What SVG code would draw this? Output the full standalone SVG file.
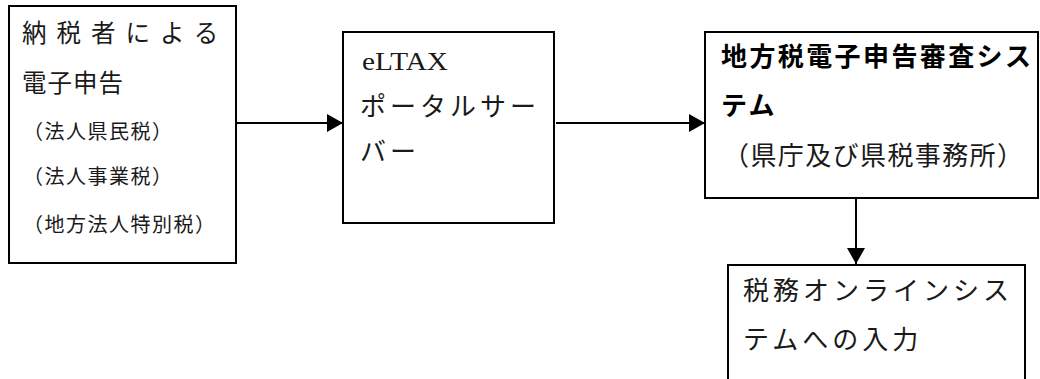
<svg xmlns="http://www.w3.org/2000/svg" width="1040" height="379" viewBox="0 0 1040 379">
  <style>
    .box { fill: #ffffff; stroke: #000000; stroke-width: 2; }
    .jp { font-family: "Noto Sans CJK JP", "Liberation Serif", sans-serif; fill: #1a1a1a; font-size: 24.5px; }
    .sm { font-size: 20px; letter-spacing: 1.5px; }
    .lg { font-size: 26px; }
    .bold { font-weight: bold; fill: #000000; }
    .lat { font-family: "Liberation Serif", serif; font-size: 26px; fill: #1a1a1a; }
    .conn { stroke: #000000; stroke-width: 2; fill: none; }
  </style>
  <defs>
    <marker id="arrow" viewBox="0 0 16 18" refX="16" refY="9" markerWidth="16" markerHeight="18" markerUnits="userSpaceOnUse" orient="auto">
      <path d="M0,0 L16,9 L0,18 Z" fill="#000000"/>
    </marker>
  </defs>

  <rect width="1040" height="379" fill="#ffffff"/>

  <!-- taxpayer filing -->
  <g id="taxpayer">
    <rect class="box" x="9" y="6" width="227" height="257"/>
    <text class="jp" x="22" y="42" letter-spacing="10">納税者による</text>
    <text class="jp" x="22" y="92" letter-spacing="1">電子申告</text>
    <text class="jp sm" x="23" y="139">（法人県民税）</text>
    <text class="jp sm" x="23" y="184">（法人事業税）</text>
    <text class="jp sm" x="23" y="232">（地方法人特別税）</text>
  </g>

  <!-- eLTAX portal server -->
  <g id="portal">
    <rect class="box" x="343" y="32" width="211" height="191"/>
    <text class="lat" x="362" y="70" textLength="86" lengthAdjust="spacingAndGlyphs">eLTAX</text>
    <text class="jp lg" x="360" y="116" letter-spacing="4">ポータルサー</text>
    <text class="jp lg" x="360" y="161" letter-spacing="4">バー</text>
  </g>

  <!-- local tax review system -->
  <g id="review">
    <rect class="box" x="705" y="32" width="333" height="166"/>
    <text class="jp lg bold" x="721" y="66" letter-spacing="2.4">地方税電子申告審査シス</text>
    <text class="jp lg bold" x="721" y="115" letter-spacing="2.4">テム</text>
    <text class="jp lg" x="723" y="165" textLength="300" lengthAdjust="spacing">（県庁及び県税事務所）</text>
  </g>

  <!-- online tax system input -->
  <g id="online">
    <rect class="box" x="728" y="265" width="297" height="130"/>
    <text class="jp lg" x="743" y="300" letter-spacing="4">税務オンラインシス</text>
    <text class="jp lg" x="743" y="349" letter-spacing="4">テムへの入力</text>
  </g>

  <!-- connectors -->
  <g id="connectors">
    <line class="conn" x1="237" y1="123" x2="343" y2="123" marker-end="url(#arrow)"/>
    <line class="conn" x1="556" y1="123" x2="705" y2="123" marker-end="url(#arrow)"/>
    <line class="conn" x1="856" y1="198" x2="856" y2="264" marker-end="url(#arrow)"/>
  </g>
</svg>
